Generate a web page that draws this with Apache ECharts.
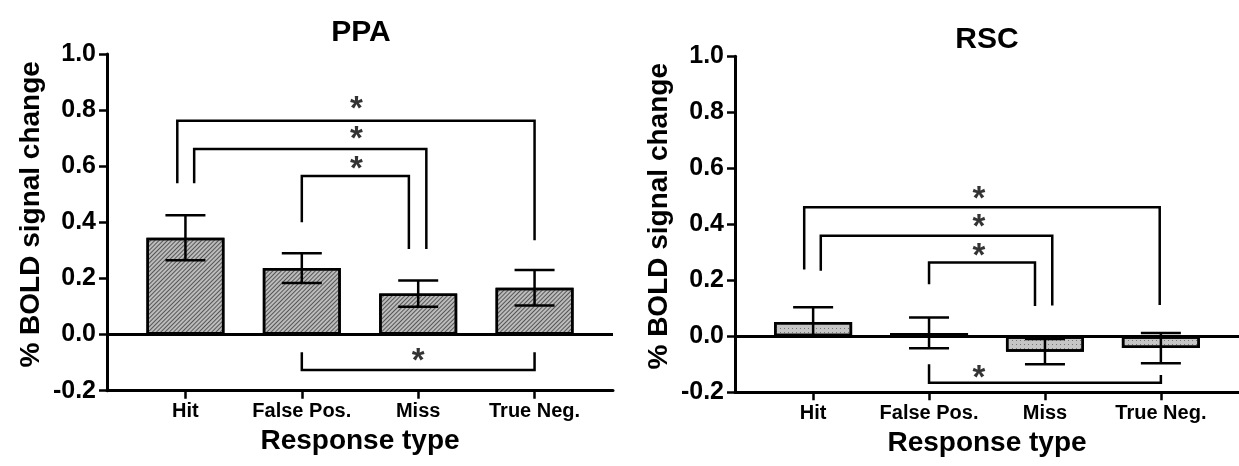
<!DOCTYPE html>
<html>
<head>
<meta charset="utf-8">
<script src="https://cdn.jsdelivr.net/npm/echarts@6/dist/echarts.min.js"></script>
<style>
  html, body { margin: 0; padding: 0; background: #fff; }
  #chart { width: 1239px; height: 466px; }
</style>
</head>
<body>
<div id="chart"></div>
<script>
// Response categories shown on both panels
const categories = ['Hit', 'False Pos.', 'Miss', 'True Neg.'];
const yTickValues = [-0.2, 0.0, 0.2, 0.4, 0.6, 0.8, 1.0];

// Mean % BOLD signal change and standard error per response type
const ppaMean = [0.345, 0.237, 0.146, 0.167];
const ppaSem  = [0.080, 0.053, 0.047, 0.063];
const rscMean = [0.051, 0.012, -0.055, -0.042];
const rscSem  = [0.053, 0.055, 0.045, 0.054];

// Significance brackets: [left x, right x, bar level, left leg end, right leg end]
const ppaBrackets = [
  [-0.07, 3.0, 0.762, 0.539, 0.336],
  [0.075, 2.07, 0.661, 0.539, 0.305],
  [1.0, 1.92, 0.565, 0.400, 0.305],
  [1.0, 3.0, -0.126, -0.063, -0.063]
];
const rscBrackets = [
  [-0.077, 2.99, 0.461, 0.239, 0.112],
  [0.066, 2.063, 0.359, 0.234, 0.110],
  [1.0, 1.914, 0.264, 0.186, 0.108],
  [1.0, 3.0, -0.166, -0.100, -0.138]
];
// Asterisk positions [x, y]
const ppaStars = [[1.47, 0.821], [1.47, 0.714], [1.47, 0.610], [2.0, -0.075]];
const rscStars = [[1.43, 0.510], [1.43, 0.407], [1.43, 0.305], [1.43, -0.131]];

const FONT = '"Liberation Sans", Arial, Helvetica, sans-serif';
const INK = '#000';

function xAxisFor(gridIndex) {
  return {
    type: 'value', gridIndex, min: -0.674, max: 3.674,
    name: 'Response type', nameLocation: 'middle', nameGap: 37,
    nameTextStyle: { fontFamily: FONT, fontWeight: 'bold', fontSize: 28, color: INK },
    axisLine: { onZero: false, lineStyle: { color: INK, width: 3 } },
    axisTick: { show: true, customValues: [0, 1, 2, 3], length: 8, lineStyle: { color: INK, width: 2.5 } },
    axisLabel: {
      customValues: [0, 1, 2, 3], margin: 11,
      formatter: v => categories[Math.round(v)],
      fontFamily: FONT, fontWeight: 'bold', fontSize: 20, color: INK
    },
    splitLine: { show: false }
  };
}

function yAxisFor(gridIndex) {
  return {
    type: 'value', gridIndex, min: -0.2, max: 1.0, interval: 0.2,
    name: '% BOLD signal change', nameLocation: 'middle', nameGap: 62, nameRotate: 90,
    nameTextStyle: { fontFamily: FONT, fontWeight: 'bold', fontSize: 28, color: INK, padding: [0, 0, 0, 16] },
    axisLine: { onZero: false, lineStyle: { color: INK, width: 3 } },
    axisTick: { show: true, length: 8, lineStyle: { color: INK, width: 2.5 } },
    axisLabel: {
      margin: 11, fontFamily: FONT, fontWeight: 'bold', fontSize: 25, color: INK,
      customValues: yTickValues,
      formatter: v => v.toFixed(1)
    },
    splitLine: { show: false }
  };
}

const hatch = {
  symbol: 'rect', symbolSize: 1, color: 'rgba(60,60,60,0.8)',
  dashArrayX: [1, 0], dashArrayY: [1, 2], rotation: -Math.PI / 4
};
const dots = {
  symbol: 'rect', symbolSize: 1, color: 'rgba(110,110,110,0.9)',
  dashArrayX: [1, 3], dashArrayY: [1, 3], rotation: 0
};

function barSeries(idx, means, fill, decal) {
  return {
    type: 'bar', xAxisIndex: idx, yAxisIndex: idx,
    data: means.map((v, i) => [i, v]),
    barWidth: 78, z: 2,
    itemStyle: { color: fill, borderColor: INK, borderWidth: 2.5, decal },
    silent: true
  };
}

function errorSeries(idx, means, sems) {
  return {
    type: 'custom', xAxisIndex: idx, yAxisIndex: idx, z: 4, clip: false,
    data: means.map((v, i) => [i, v - sems[i], v + sems[i]]),
    encode: { x: 0, y: [1, 2] },
    renderItem(params, api) {
      const lo = api.coord([api.value(0), api.value(1)]);
      const hi = api.coord([api.value(0), api.value(2)]);
      const half = 20;
      const style = { stroke: INK, lineWidth: 2.5 };
      return {
        type: 'group', children: [
          { type: 'line', shape: { x1: lo[0], y1: lo[1], x2: hi[0], y2: hi[1] }, style },
          { type: 'line', shape: { x1: lo[0] - half, y1: lo[1], x2: lo[0] + half, y2: lo[1] }, style },
          { type: 'line', shape: { x1: hi[0] - half, y1: hi[1], x2: hi[0] + half, y2: hi[1] }, style }
        ]
      };
    },
    markLine: {
      silent: true, symbol: ['none', 'none'], animation: false,
      label: { show: false },
      lineStyle: { color: INK, width: 3, type: 'solid' },
      data: [{ yAxis: 0 }]
    }
  };
}

function bracketSeries(idx, brackets) {
  return {
    type: 'custom', xAxisIndex: idx, yAxisIndex: idx, z: 5, clip: false, silent: true,
    data: brackets,
    encode: { x: [0, 1], y: [2, 3, 4] },
    renderItem(params, api) {
      const x1 = api.value(0), x2 = api.value(1), top = api.value(2);
      const pts = [
        api.coord([x1, api.value(3)]),
        api.coord([x1, top]),
        api.coord([x2, top]),
        api.coord([x2, api.value(4)])
      ];
      return { type: 'polyline', shape: { points: pts }, style: { stroke: INK, lineWidth: 2.5, fill: null } };
    }
  };
}

function starSeries(idx, stars) {
  return {
    type: 'scatter', xAxisIndex: idx, yAxisIndex: idx, z: 6, silent: true,
    data: stars, symbolSize: 0,
    label: {
      show: true, position: 'inside', formatter: '*', offset: [0, 6],
      fontFamily: FONT, fontWeight: 'bold', fontSize: 33, color: INK
    }
  };
}

const chart = echarts.init(document.getElementById('chart'), null, { renderer: 'canvas' });
chart.setOption({
  backgroundColor: '#fff',
  animation: false,
  graphic: [
    { type: 'text', x: 361, y: 33, style: { text: 'PPA', font: 'bold 30px ' + FONT, fill: INK, align: 'center', verticalAlign: 'middle' } },
    { type: 'text', x: 987, y: 40, style: { text: 'RSC', font: 'bold 30px ' + FONT, fill: INK, align: 'center', verticalAlign: 'middle' } }
  ],
  grid: [
    { left: 107, top: 54, width: 506, height: 336.7 },
    { left: 735, top: 56.3, width: 504, height: 336 }
  ],
  xAxis: [xAxisFor(0), xAxisFor(1)],
  yAxis: [yAxisFor(0), yAxisFor(1)],
  series: [
    barSeries(0, ppaMean, '#bcbcbc', hatch),
    errorSeries(0, ppaMean, ppaSem),
    bracketSeries(0, ppaBrackets),
    starSeries(0, ppaStars),
    barSeries(1, rscMean, '#c6c6c6', dots),
    errorSeries(1, rscMean, rscSem),
    bracketSeries(1, rscBrackets),
    starSeries(1, rscStars)
  ]
});
</script>
</body>
</html>
